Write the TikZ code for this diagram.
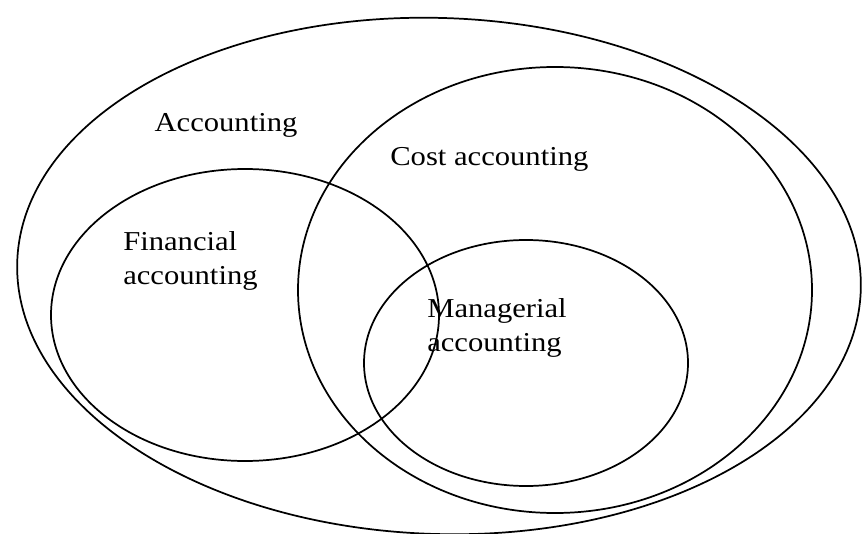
\documentclass[tikz,border=0pt]{standalone}
\usepackage{fontspec}
\setmainfont{Liberation Serif}

\tikzset{
  set/.style={draw,line width=1.3pt},
  lbl/.style={font=\fontsize{20.5}{25}\selectfont,xscale=1.12,inner sep=0pt,align=left}
}

\begin{document}
\begin{tikzpicture}[x=0.75pt,y=-0.75pt]
  \useasboundingbox (0,0) rectangle (862,534);
  % centres of the sets
  \coordinate (acc) at (439,276);
  \coordinate (cost) at (555,290);
  \coordinate (fin) at (245,315);
  \coordinate (man) at (526,363);
  \draw[set,rotate around={-2:(acc)}] (acc) ellipse [x radius=422, y radius=258];
  \draw[set] (cost) ellipse [x radius=257, y radius=223];
  \draw[set] (fin) ellipse [x radius=194, y radius=146];
  \draw[set] (man) ellipse [x radius=162, y radius=123];
  % labels
  \node[lbl] (accl) at (226,125) {Accounting};
  \node[lbl,anchor=west] (costl) at (390,159) {Cost accounting};
  \node[lbl,anchor=west] (finl) at (123,261) {Financial\\accounting};
  \node[lbl,anchor=west] (manl) at (427,328) {Managerial\\accounting};
\end{tikzpicture}
\end{document}
